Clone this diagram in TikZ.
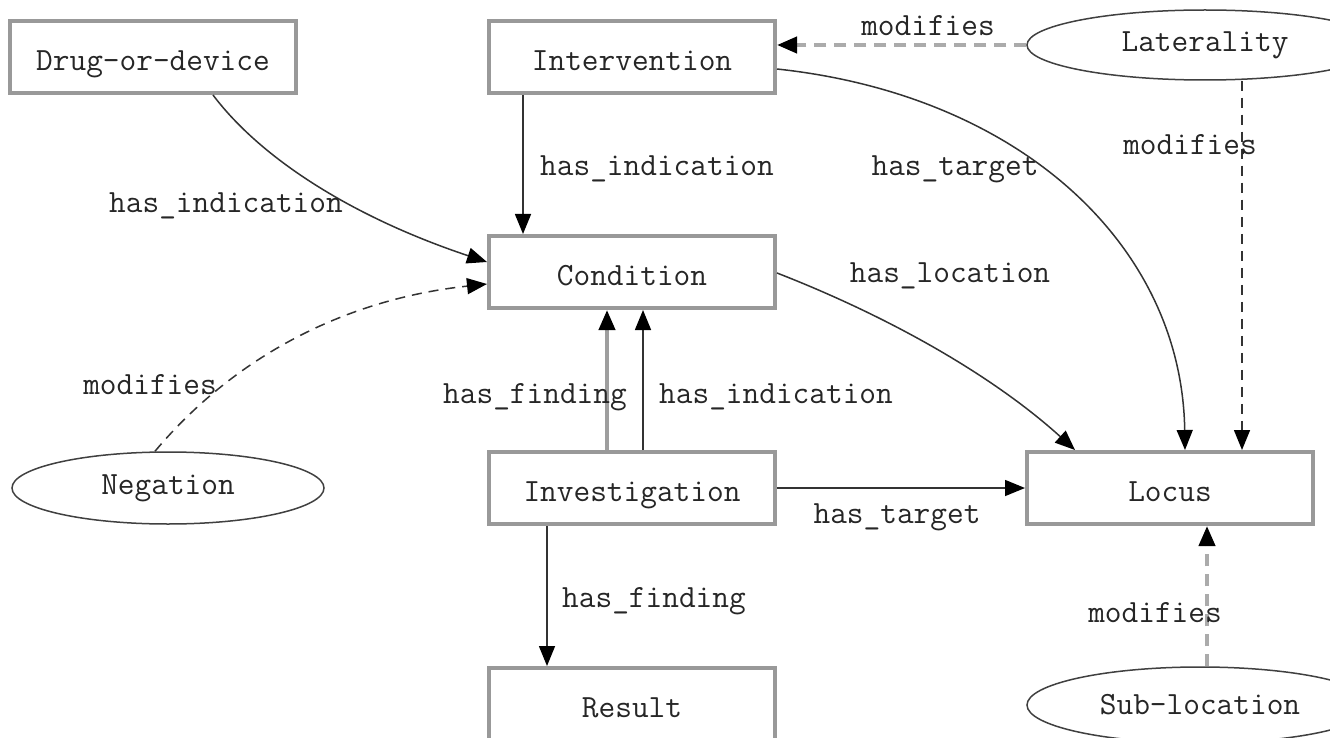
\documentclass[tikz,border=0pt]{standalone}
\usepackage{fontspec}
\usetikzlibrary{arrows.meta,shapes.geometric}
\begin{document}
\begin{tikzpicture}[x=1pt,y=-1pt,
  every node/.style={font=\ttfamily\fontsize{32.4pt}{38pt}\selectfont, text=black!85},
  box/.style={draw=black!40, line width=4pt, minimum width=286pt, minimum height=72pt, inner sep=0pt, fill=white, text height=29pt, text depth=2pt},
  ell/.style={ellipse, draw=black!75, line width=1.5pt, inner sep=0pt},
  headtip/.style={-{Triangle[length=20pt,width=16pt,color=black]}},
  rel/.style={draw=black!80, line width=1.5pt, headtip},
  relthick/.style={draw=black!38, line width=4pt, headtip},
  modthick/.style={draw=black!33, line width=4pt, dash pattern=on 12pt off 8pt, headtip},
  modthin/.style={draw=black!80, line width=1.5pt, dash pattern=on 10pt off 7pt, headtip},
  lbl/.style={inner sep=0pt}
]
\useasboundingbox (0,0) rectangle (1330,738);
\clip (0,0) rectangle (1330,738);
\fill[white] (0,0) rectangle (1330,738);

% nodes
\node[box] (drug) at (153,57) {Drug-or-device};
\node[box] (int) at (632,57) {Intervention};
\node[box] (cond) at (632,272) {Condition};
\node[box] (inv) at (632,488) {Investigation};
\node[box] (res) at (632,704) {Result};
\node[box] (loc) at (1170,488) {Locus};
\node[ell, minimum width=356pt, minimum height=70pt] (lat) at (1205,45) {Laterality};
\node[ell, minimum width=312pt, minimum height=72pt] (neg) at (168,488) {Negation};
\node[ell, minimum width=346pt, minimum height=76pt] (sub) at (1200,705) {Sub-location};

\coordinate (lx) at (1242,0);

% connectors
\draw[rel] ([xshift=205pt]drug.south west) .. controls (262,160) and (355,218) .. ([yshift=10pt]cond.west);
\draw[rel] ([xshift=36pt]int.south west) -- ([xshift=36pt]cond.north west);
\draw[modthick] (lat.west) -- (lat.west -| int.east);
\draw[rel] ([yshift=-12pt]int.east) .. controls (1020,95) and (1182,245) .. ([xshift=15pt]loc.north);
\draw[modthin] (lat.south -| lx) -- (loc.north -| lx);
\draw[rel] ([yshift=-1pt]cond.east) .. controls (900,321) and (999,381) .. ([xshift=-95pt]loc.north);
\draw[modthin] ([xshift=-13pt]neg.north) .. controls (236,355) and (347,299) .. ([yshift=-12pt]cond.west);
\draw[relthick] ([xshift=120pt]inv.north west) -- ([xshift=120pt]cond.south west);
\draw[rel] ([xshift=156pt]inv.north west) -- ([xshift=156pt]cond.south west);
\draw[rel] (inv.east) -- (loc.west);
\draw[rel] ([xshift=60pt]inv.south west) -- ([xshift=60pt]res.north west);
\draw[modthick] ([xshift=7pt]sub.north) -- ([xshift=37pt]loc.south);

% labels
\node[lbl] (l1) at (226,206) {has\_indication};
\node[lbl] (l2) at (657,169) {has\_indication};
\node[lbl] (l3) at (928,26) {modifies};
\node[lbl] (l4) at (955,169) {has\_target};
\node[lbl] (l5) at (1190,145) {modifies};
\node[lbl] (l6) at (950,276) {has\_location};
\node[lbl] (l7) at (150,385) {modifies};
\node[lbl] (l8) at (535,397) {has\_finding};
\node[lbl] (l9) at (776,397) {has\_indication};
\node[lbl] (l10) at (897,517) {has\_target};
\node[lbl] (l11) at (654,601) {has\_finding};
\node[lbl] (l12) at (1155,613) {modifies};
\end{tikzpicture}
\end{document}
